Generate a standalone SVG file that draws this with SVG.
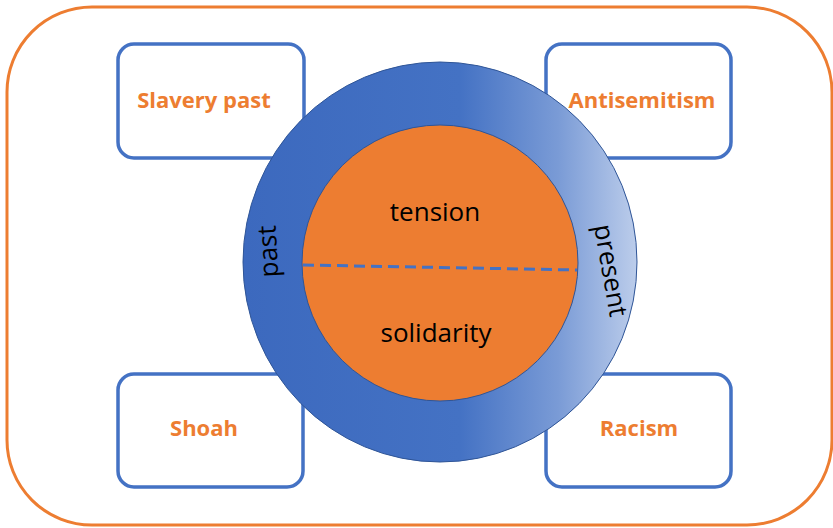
<svg xmlns="http://www.w3.org/2000/svg" width="833" height="528" viewBox="0 0 833 528">
<defs>
<linearGradient id="ringGrad" x1="0" y1="0" x2="1" y2="0">
<stop offset="0" stop-color="#3C69BE"/>
<stop offset="0.55" stop-color="#4472C4"/>
<stop offset="0.8" stop-color="#7A9BD6"/>
<stop offset="1" stop-color="#BCCDEB"/>
</linearGradient>
</defs>
<style>
.box{fill:#FFFFFF;stroke:#4472C4;stroke-width:3.5}
.lbl{font-family:"Open Sans","Liberation Sans",sans-serif;font-weight:bold;font-size:22px;fill:#ED7D31;text-anchor:middle}
.txt{font-family:"Open Sans","Liberation Sans",sans-serif;font-size:26px;fill:#000000;text-anchor:middle}
</style>
<rect id="frame" x="7" y="7" width="825" height="518" rx="85" ry="85" fill="#FFFFFF" stroke="#ED7D31" stroke-width="3"/>
<g id="slavery">
<rect class="box" x="118" y="44" width="186" height="114" rx="16"/>
<text class="lbl" x="204" y="108">Slavery past</text>
</g>
<g id="antisemitism">
<rect class="box" x="546" y="44" width="185" height="114" rx="16"/>
<text class="lbl" x="642" y="108">Antisemitism</text>
</g>
<g id="shoah">
<rect class="box" x="118" y="374" width="185" height="113" rx="16"/>
<text class="lbl" x="204" y="436">Shoah</text>
</g>
<g id="racism">
<rect class="box" x="546" y="374" width="185" height="113" rx="16"/>
<text class="lbl" x="639" y="436">Racism</text>
</g>
<g id="circle">
<ellipse cx="440" cy="262" rx="197" ry="200" fill="url(#ringGrad)" stroke="#2F5597" stroke-width="1"/>
<circle cx="440" cy="263" r="138" fill="#ED7D31" stroke="#2F5597" stroke-width="1"/>
<line x1="303" y1="265" x2="577" y2="270" stroke="#4472C4" stroke-width="3" stroke-dasharray="11,6"/>
<text class="txt" x="435" y="221">tension</text>
<text class="txt" x="436" y="342">solidarity</text>
<text class="txt" transform="translate(277,251) rotate(-93)">past</text>
<text class="txt" transform="translate(602,272) rotate(80)">present</text>
</g>
<g id="connectors"/>
</svg>
